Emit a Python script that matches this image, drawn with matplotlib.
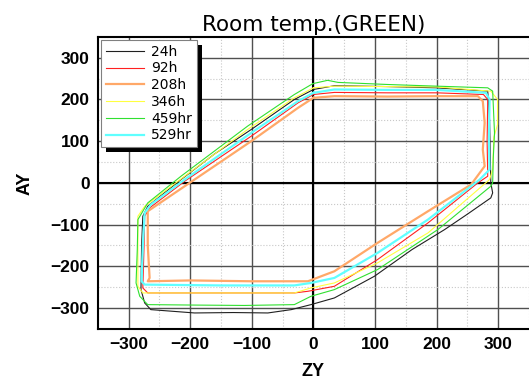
import matplotlib
matplotlib.use("Agg")
import matplotlib.pyplot as plt
from matplotlib.ticker import MultipleLocator
from matplotlib.patches import Rectangle
from matplotlib.transforms import IdentityTransform

# outline of each run, (ZY, AY)
labels = ["24h", "92h", "208h", "346h", "459hr", "529hr"]
colors = ["#202020", "#ff2020", "#ffa868", "#ffff40", "#30e030", "#60ffff"]
widths = [0.8, 0.8, 1.6, 0.8, 0.8, 1.6]

zy_24 = [0, 34, 120, 200, 283, 286, 288, 291, 288, 250, 213, 160, 99, 34, -4, -36, -74, -130, -193, -264, -274, -280, -279, -277, -269, -215, -160, -101, -31, 0]
ay_24 = [224, 233, 231, 228, 220, 150, 0, -24, -36, -75, -112, -160, -224, -276, -292, -304, -312, -311, -312, -304, -288, -256, -150, -80, -56, 8, 70, 128, 200, 224]

zy_92 = [0, 34, 120, 200, 276, 283, 282, 283, 267, 186, 104, 34, -9, -31, -150, -269, -277, -275, -274, -266, -209, -101, -25, 0]
ay_92 = [212, 217, 216, 216, 212, 200, 100, 16, 0, -96, -184, -248, -260, -264, -264, -264, -252, -150, -80, -60, 4, 112, 192, 212]

zy_208 = [0, 34, 120, 200, 267, 275, 278, 275, 278, 256, 186, 104, 34, -9, -100, -200, -269, -266, -269, -269, -201, -101, -25, 0]
ay_208 = [204, 208, 207, 208, 208, 196, 144, 80, 40, -4, -68, -144, -212, -236, -236, -234, -236, -228, -150, -68, 0, 100, 180, 204]

zy_346 = [0, 34, 120, 200, 288, 299, 299, 293, 291, 286, 186, 104, 34, -4, -31, -150, -277, -285, -285, -285, -274, -209, -107, -31, 0]
ay_346 = [228, 232, 231, 230, 220, 200, 140, 110, 32, 8, -120, -192, -240, -252, -264, -264, -264, -248, -150, -80, -56, 16, 128, 204, 228]

zy_459 = [-1, 23, 40, 120, 200, 283, 291, 294, 292, 291, 288, 202, 104, 34, -4, -31, -112, -200, -269, -282, -288, -286, -285, -269, -215, -107, -31, -1]
ay_459 = [238, 246, 241, 236, 232, 228, 220, 120, 60, 0, -8, -112, -208, -256, -272, -292, -294, -293, -292, -272, -240, -160, -88, -48, 16, 136, 212, 238]

zy_529 = [0, 34, 120, 200, 280, 286, 285, 286, 270, 186, 104, 34, -4, -31, -150, -274, -279, -277, -274, -264, -209, -101, -25, 0]
ay_529 = [216, 224, 223, 223, 216, 200, 100, 32, 8, -88, -168, -228, -240, -246, -246, -244, -236, -150, -72, -52, 8, 120, 196, 216]

xs = [zy_24, zy_92, zy_208, zy_346, zy_459, zy_529]
ys = [ay_24, ay_92, ay_208, ay_346, ay_459, ay_529]

fig = plt.figure(figsize=(5.29, 3.81), dpi=100)
ax = fig.add_axes([0.185, 0.137, 0.815, 0.766])

for x, y, lab, c, w in zip(xs, ys, labels, colors, widths):
    ax.plot(x, y, color=c, lw=w, label=lab)

ax.set_xlim(-350, 350)
ax.set_ylim(-350, 350)
ax.xaxis.set_major_locator(MultipleLocator(100))
ax.yaxis.set_major_locator(MultipleLocator(100))
ax.xaxis.set_minor_locator(MultipleLocator(50))
ax.yaxis.set_minor_locator(MultipleLocator(50))
ax.grid(which="major", color="#505050", lw=1.0, ls="-")
ax.grid(which="minor", color="#c8c8c8", lw=0.8, ls=":")
ax.set_axisbelow(True)
ax.axhline(0, color="black", lw=1.5, zorder=1)
ax.axvline(0, color="black", lw=1.5, zorder=1)
for s in ax.spines.values():
    s.set_color("black")
    s.set_linewidth(1.5)
ax.spines["right"].set_visible(False)

ax.tick_params(which="both", length=0, pad=6)
for t in ax.get_xticklabels() + ax.get_yticklabels():
    t.set_fontweight("bold")
    t.set_fontsize(12.5)
    t.set_family("Liberation Sans")

ax.set_title("Room temp.(GREEN)", fontsize=15.5, pad=4)
ax.set_xlabel("ZY", fontsize=13, fontweight="bold", family="Liberation Sans", labelpad=8)
ax.set_ylabel("AY", fontsize=13, fontweight="bold", family="Liberation Sans", labelpad=12)

leg = ax.legend(loc="upper left", prop={"size": 10, "family": "DejaVu Sans"},
                fancybox=False, framealpha=1,
                edgecolor="#808080", handlelength=2.8, handletextpad=0.5,
                labelspacing=0.2, borderpad=0.35, borderaxespad=0.2)
leg.get_frame().set_linewidth(0.8)

# black drop shadow behind the legend box
fig.canvas.draw()
bb = leg.get_window_extent()
shadow = Rectangle((bb.x0 + 5, bb.y0 - 5), bb.width, bb.height,
                   transform=IdentityTransform(), facecolor="black",
                   edgecolor="none", zorder=4.9, clip_on=False)
ax.add_artist(shadow)

fig.savefig("out.png", dpi=100)
